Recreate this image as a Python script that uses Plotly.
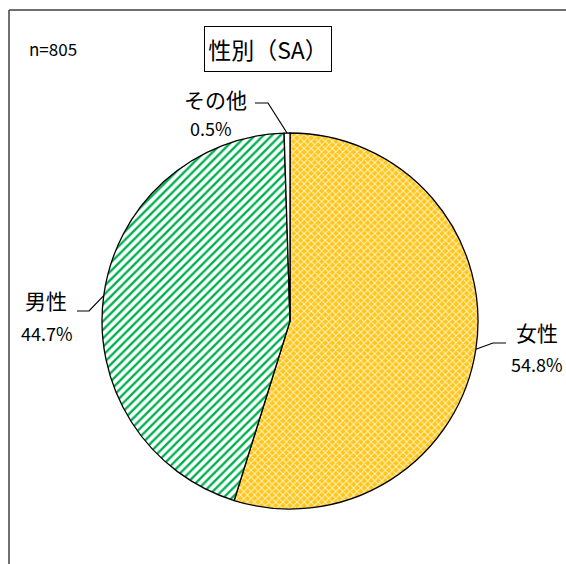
import math
import plotly.graph_objects as go

# ---- data ----
categories = ["女性", "男性", "その他"]
values = [54.8, 44.7, 0.5]
pct_labels = ["54.8%", "44.7%", "0.5%"]
title_text = "性別（SA）"
n_text = "n=805"

# ---- layout constants (pixels, from top-left) ----
W, H = 566, 564
CX, CY, R = 290, 321, 188
FONT = "Noto Sans CJK JP, Noto Sans, sans-serif"

# label placement: (elbow x, elbow y, end x, end y, name x, name y, pct x, pct y)
label_pos = {
    "女性": (493, 343, 506, 343, 537, 332, 537, 364),
    "男性": (89, 311, 77, 311, 46, 300, 47, 333),
    "その他": (268, 103, 255, 103, 215, 99, 211, 128),
}


def px(x):
    return x / W


def py(y):
    return 1 - y / H


fig = go.Figure(go.Pie(
    labels=categories,
    values=values,
    sort=False,
    direction="clockwise",
    rotation=0,
    textinfo="none",
    hoverinfo="label+percent",
    domain=dict(x=[px(CX - R), px(CX + R)], y=[py(CY + R), py(CY - R)]),
    marker=dict(
        colors=["#FFC000", "white", "white"],
        line=dict(color="black", width=1.3),
        pattern=dict(
            shape=["x", "/", ""],
            fgcolor=["#FFF3CC", "#00B050", "black"],
            bgcolor=["#FFC61A", "white", "white"],
            size=[5, 6, 4],
            solidity=[0.35, 0.4, 0.2],
            fillmode="replace",
        ),
    ),
    showlegend=False,
))

shapes = []
annotations = []

total = sum(values)
cum = 0.0
for cat, v, pl in zip(categories, values, pct_labels):
    mid = (cum + v / 2) / total * 2 * math.pi
    cum += v
    sx = CX + R * math.sin(mid)
    sy = CY - R * math.cos(mid)
    ex, ey, tx, ty, nx, ny, qx, qy = label_pos[cat]
    path = f"M {px(sx)} {py(sy)} L {px(ex)} {py(ey)} L {px(tx)} {py(ty)}"
    shapes.append(dict(type="path", xref="paper", yref="paper", path=path,
                       line=dict(color="black", width=1.2)))
    annotations.append(dict(x=px(nx), y=py(ny), xref="paper", yref="paper",
                            text=cat, showarrow=False,
                            font=dict(family=FONT, size=21, color="black"),
                            xanchor="center", yanchor="middle"))
    annotations.append(dict(x=px(qx), y=py(qy), xref="paper", yref="paper",
                            text=pl, showarrow=False,
                            font=dict(family=FONT, size=18, color="black"),
                            xanchor="center", yanchor="middle"))

# title box
annotations.append(dict(x=px(268), y=py(49), xref="paper", yref="paper",
                        text=title_text, showarrow=False,
                        font=dict(family=FONT, size=23, color="black"),
                        width=124, height=42, borderpad=1,
                        bordercolor="black", borderwidth=1, bgcolor="white",
                        xanchor="center", yanchor="middle"))
# n
annotations.append(dict(x=px(27), y=py(48), xref="paper", yref="paper",
                        text=n_text, showarrow=False,
                        font=dict(family=FONT, size=17, color="black"),
                        xanchor="left", yanchor="middle"))

# outer frame (left and top edges visible)
shapes.append(dict(type="line", xref="paper", yref="paper",
                   x0=px(9), y0=py(10), x1=px(9), y1=-0.05,
                   line=dict(color="#404040", width=1.5)))
shapes.append(dict(type="line", xref="paper", yref="paper",
                   x0=px(9), y0=py(10), x1=1.05, y1=py(10),
                   line=dict(color="#404040", width=1.5)))

fig.update_layout(
    width=W, height=H,
    margin=dict(l=0, r=0, t=0, b=0),
    paper_bgcolor="white",
    plot_bgcolor="white",
    shapes=shapes,
    annotations=annotations,
    font=dict(family=FONT),
)

fig.write_html(
    "out.html",
    config={"displayModeBar": False},
    post_script="document.body.style.margin='0';document.body.style.overflow='hidden';",
)
